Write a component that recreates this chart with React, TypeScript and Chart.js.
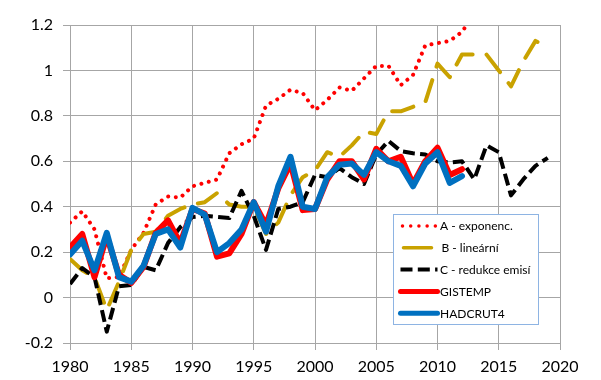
import React, { useEffect, useRef } from 'react';
import { Chart, registerables } from 'chart.js';

Chart.register(...registerables);

// ---- data ----
const expYears = [1980, 1981, 1982, 1983, 1984, 1985, 1986, 1987, 1988, 1989, 1990, 1991, 1992, 1993, 1994, 1995, 1996, 1997, 1998, 1999, 2000, 2001, 2002, 2003, 2004, 2005, 2006, 2007, 2008, 2009, 2010, 2011, 2012, 2013];
const modelYears = [1980, 1981, 1982, 1983, 1984, 1985, 1986, 1987, 1988, 1989, 1990, 1991, 1992, 1993, 1994, 1995, 1996, 1997, 1998, 1999, 2000, 2001, 2002, 2003, 2004, 2005, 2006, 2007, 2008, 2009, 2010, 2011, 2012, 2013, 2014, 2015, 2016, 2017, 2018, 2019];
const obsYears = [1980, 1981, 1982, 1983, 1984, 1985, 1986, 1987, 1988, 1989, 1990, 1991, 1992, 1993, 1994, 1995, 1996, 1997, 1998, 1999, 2000, 2001, 2002, 2003, 2004, 2005, 2006, 2007, 2008, 2009, 2010, 2011, 2012];

const seriesA = [0.33, 0.38, 0.30, 0.085, 0.09, 0.21, 0.285, 0.41, 0.445, 0.44, 0.49, 0.505, 0.52, 0.635, 0.675, 0.70, 0.845, 0.875, 0.915, 0.90, 0.825, 0.87, 0.925, 0.91, 0.965, 1.02, 1.02, 0.935, 0.98, 1.11, 1.12, 1.13, 1.17, 1.25];
const seriesB = [0.17, 0.12, 0.09, -0.055, 0.07, 0.21, 0.28, 0.29, 0.36, 0.39, 0.41, 0.42, 0.46, 0.41, 0.40, 0.40, 0.28, 0.33, 0.45, 0.53, 0.56, 0.64, 0.62, 0.67, 0.73, 0.72, 0.82, 0.82, 0.84, 0.86, 1.03, 0.97, 1.07, 1.07, 1.07, 1.0, 0.93, 1.04, 1.13, 1.10];
const seriesC = [0.06, 0.13, 0.09, -0.15, 0.05, 0.055, 0.135, 0.12, 0.24, 0.31, 0.355, 0.36, 0.355, 0.35, 0.47, 0.36, 0.21, 0.39, 0.40, 0.42, 0.54, 0.53, 0.57, 0.53, 0.50, 0.63, 0.69, 0.645, 0.635, 0.63, 0.60, 0.595, 0.60, 0.52, 0.67, 0.64, 0.45, 0.52, 0.58, 0.615];
const gistemp = [0.22, 0.28, 0.09, 0.27, 0.10, 0.065, 0.135, 0.285, 0.34, 0.24, 0.39, 0.37, 0.18, 0.195, 0.28, 0.42, 0.32, 0.48, 0.59, 0.385, 0.39, 0.52, 0.60, 0.60, 0.52, 0.655, 0.60, 0.62, 0.50, 0.60, 0.66, 0.54, 0.565];
const hadcrut4 = [0.19, 0.25, 0.12, 0.285, 0.09, 0.07, 0.14, 0.28, 0.30, 0.22, 0.395, 0.365, 0.20, 0.24, 0.30, 0.42, 0.29, 0.49, 0.62, 0.40, 0.39, 0.53, 0.585, 0.59, 0.54, 0.64, 0.60, 0.58, 0.49, 0.59, 0.64, 0.505, 0.535];

const seriesLabels = ['A - exponenc.', 'B - lineární', 'C - redukce emisí', 'GISTEMP', 'HADCRUT4'];
const xTicks = [1980, 1985, 1990, 1995, 2000, 2005, 2010, 2015, 2020];
const yTicks = [-0.2, 0, 0.2, 0.4, 0.6, 0.8, 1, 1.2];

const FONT = 'Lato, "Liberation Sans", sans-serif';

const pts = (xs: number[], ys: number[]) => xs.map((x, i) => ({ x, y: ys[i] }));

const boxLegend = {
  id: 'boxLegend',
  afterDraw(chart: any) {
    const ctx = chart.ctx as CanvasRenderingContext2D;
    const ca = chart.chartArea;
    const left = Math.round(ca.left + 323) + 0.5;
    const top = Math.round(ca.top + 189) + 0.5;
    const w = 145;
    const h = 110;
    ctx.save();
    ctx.fillStyle = '#ffffff';
    ctx.fillRect(left, top, w, h);
    ctx.strokeStyle = '#8EB4E3';
    ctx.lineWidth = 1;
    ctx.strokeRect(left, top, w, h);
    chart.data.datasets.forEach((ds: any, i: number) => {
      const y = top + 11.5 + i * 21.8;
      ctx.beginPath();
      ctx.setLineDash(ds.legendDash || ds.borderDash || []);
      ctx.lineCap = ds.borderCapStyle || 'butt';
      ctx.lineWidth = ds.legendWidth || ds.borderWidth;
      ctx.strokeStyle = ds.borderColor;
      const x0 = left + (ds.legendInset || 7);
      const x1 = left + (ds.legendEnd || 44);
      ctx.moveTo(x0, y);
      ctx.lineTo(x1, y);
      ctx.stroke();
      ctx.setLineDash([]);
      ctx.fillStyle = '#000';
      ctx.font = '12px ' + FONT;
      ctx.textBaseline = 'middle';
      ctx.textAlign = 'left';
      ctx.fillText(ds.label, left + 46.5 + (ds.legendTextShift || 0), y + 0.5);
    });
    ctx.restore();
  },
};

export default function App() {
  const ref = useRef<HTMLCanvasElement | null>(null);
  useEffect(() => {
    if (!ref.current) return;
    const grid = '#A6A6A6';
    const chart = new Chart(ref.current, {
      type: 'line',
      data: {
        datasets: [
          {
            label: seriesLabels[0],
            data: pts(expYears, seriesA),
            borderColor: '#FF0000',
            borderWidth: 4,
            borderDash: [0.01, 7.6],
            borderCapStyle: 'round',
            order: 5,
            legendInset: 9,
            legendEnd: 42,
            legendDash: [0.01, 8.2],
            legendWidth: 3.5,
          } as any,
          {
            label: seriesLabels[1],
            data: pts(modelYears, seriesB),
            borderColor: '#C9A200',
            borderWidth: 4,
            borderDash: [22, 14],
            borderCapStyle: 'round',
            order: 4,
            legendDash: [],
            legendInset: 10,
            legendEnd: 38,
            legendWidth: 3.5,
            legendTextShift: 1.5,
          } as any,
          {
            label: seriesLabels[2],
            data: pts(modelYears, seriesC),
            borderColor: '#000000',
            borderWidth: 4,
            borderDash: [12, 5.3],
            borderCapStyle: 'butt',
            order: 3,
          } as any,
          {
            label: seriesLabels[3],
            data: pts(obsYears, gistemp),
            borderColor: '#FF0000',
            borderWidth: 6,
            borderCapStyle: 'round',
            order: 2,
            legendWidth: 5,
          } as any,
          {
            label: seriesLabels[4],
            data: pts(obsYears, hadcrut4),
            borderColor: '#0070C0',
            borderWidth: 6,
            borderCapStyle: 'round',
            order: 1,
            legendWidth: 5,
          } as any,
        ],
      },
      options: {
        animation: false,
        responsive: false,
        maintainAspectRatio: false,
        devicePixelRatio: 1,
        elements: {
          point: { radius: 0, hoverRadius: 0 },
          line: { tension: 0, borderJoinStyle: 'round', fill: false },
        },
        datasets: { line: { clip: 0 } as any },
        layout: { padding: { left: 0, right: 41, top: 25, bottom: 0 } },
        plugins: {
          legend: { display: false },
          tooltip: { enabled: false },
          title: { display: false },
        },
        scales: {
          x: {
            type: 'linear',
            min: 1980,
            max: 2020,
            afterBuildTicks: (s: any) => {
              s.ticks = xTicks.map((v) => ({ value: v }));
            },
            afterFit: (s: any) => {
              s.height = 37;
            },
            grid: { color: grid, lineWidth: 1, tickLength: 7, drawTicks: true },
            border: { color: grid, width: 1 },
            ticks: {
              color: '#000',
              font: { family: FONT, size: 16 },
              padding: 7,
              maxRotation: 0,
              autoSkip: false,
              callback: (v: any) => String(v),
            },
          },
          y: {
            type: 'linear',
            min: -0.2,
            max: 1.2,
            afterBuildTicks: (s: any) => {
              s.ticks = yTicks.map((v) => ({ value: v }));
            },
            afterFit: (s: any) => {
              s.width = 70;
            },
            grid: { color: grid, lineWidth: 1, tickLength: 7, drawTicks: true },
            border: { color: grid, width: 1 },
            ticks: {
              color: '#000',
              font: { family: FONT, size: 16 },
              padding: 10,
              autoSkip: false,
              callback: (v: any) => String(Math.round(Number(v) * 10) / 10),
            },
          },
        },
      },
      plugins: [boxLegend],
    });
    return () => chart.destroy();
  }, []);
  return (
    <div style={{ position: 'absolute', left: 0, top: 0, width: 601, height: 380, background: '#fff' }}>
      <canvas ref={ref} width={601} height={380} style={{ width: 601, height: 380, display: 'block' }} />
    </div>
  );
}
